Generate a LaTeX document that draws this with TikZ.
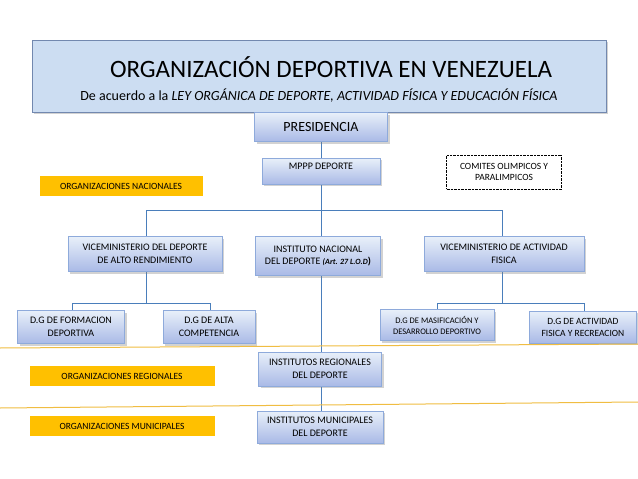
\documentclass[tikz,border=0pt]{standalone}
\usepackage{fontspec}
\setmainfont{Carlito}
\usetikzlibrary{shadows}
\definecolor{bfill}{HTML}{C6D9F1}
\definecolor{bdraw}{HTML}{8EAADB}
\definecolor{gold}{HTML}{FFC000}
\definecolor{lineblue}{HTML}{4A7EBB}
\begin{document}
\begin{tikzpicture}[x=1pt,y=-1pt,
 bx/.style={draw=bdraw,top color=white!60!bfill,bottom color=bfill!90!blue!95!black,drop shadow={shadow xshift=2pt,shadow yshift=-2pt,opacity=0.35},align=center,font=\fontsize{10}{12.5}\selectfont,inner sep=1pt},
 org/.style={fill=gold,align=center,font=\fontsize{9.5}{11}\selectfont,inner sep=0pt},
 ln/.style={draw=lineblue,line width=0.7pt}]
\useasboundingbox (0,0) rectangle (638,479);
\fill[white] (0,0) rectangle (638,479);
\draw[ln] (321,142) -- (321,158);
\draw[ln] (321,184) -- (321,210);
\draw[ln] (146,237) -- (146,210) -- (502,210) -- (502,237);
\draw[ln] (321,210) -- (321,237);
\draw[ln] (321,276) -- (321,352);
\draw[ln] (321,386) -- (321,411);
\draw[ln] (146,272) -- (146,303);
\draw[ln] (72,311) -- (72,303) -- (210,303) -- (210,311);
\draw[ln] (502,272) -- (502,303);
\draw[ln] (437,310) -- (437,303) -- (584,303) -- (584,311);
\node[draw=bdraw!80!black,fill=bfill!90!white,drop shadow={shadow xshift=2pt,shadow yshift=-2pt,opacity=0.35},minimum width=574pt,minimum height=72pt,inner sep=0pt] (title) at (319,76) {};
\node (t1) at (331,67) {\fontsize{25}{28}\selectfont ORGANIZACIÓN DEPORTIVA EN VENEZUELA};
\node (t2) at (319,96) {\fontsize{14}{16}\selectfont De acuerdo a la \textit{LEY ORGÁNICA DE DEPORTE, ACTIVIDAD FÍSICA Y EDUCACIÓN FÍSICA}};
\node[bx,minimum width=133pt,minimum height=29pt,font=\fontsize{14}{16}\selectfont] (pres) at (321,127) {PRESIDENCIA};
\node[bx,minimum width=118pt,minimum height=26pt,anchor=north,text depth=9pt] (mppp) at (321,158) {MPPP DEPORTE};
\node[draw,densely dotted,minimum width=115pt,minimum height=34pt,align=center,font=\fontsize{9.5}{11.5}\selectfont] (com) at (504,172) {COMITES OLIMPICOS Y\\PARALIMPICOS};
\node[org,minimum width=163pt,minimum height=20pt] (on) at (121,186) {ORGANIZACIONES  NACIONALES};
\node[bx,minimum width=154pt,minimum height=35pt] (v1) at (145,254) {VICEMINISTERIO DEL  DEPORTE\\DE ALTO RENDIMIENTO};
\node[bx,minimum width=125pt,minimum height=39pt] (ind) at (318,256) {INSTITUTO NACIONAL\\DEL DEPORTE \textbf{\textit{\fontsize{8}{10}\selectfont(Art. 27 L.O.D})}};
\node[bx,minimum width=160pt,minimum height=35pt] (v2) at (504,254) {VICEMINISTERIO DE  ACTIVIDAD\\FISICA};
\node[bx,minimum width=107pt,minimum height=33pt] (d1) at (71,327) {D.G DE FORMACION\\DEPORTIVA};
\node[bx,minimum width=92pt,minimum height=33pt] (d2) at (209,327) {D.G DE ALTA\\COMPETENCIA};
\node[bx,minimum width=114pt,minimum height=31pt,font=\fontsize{8.5}{11}\selectfont] (d3) at (437,325) {D.G DE MASIFICACIÓN Y\\DESARROLLO DEPORTIVO};
\node[bx,minimum width=107pt,minimum height=32pt,font=\fontsize{9.5}{12}\selectfont] (d4) at (583,327) {D.G DE ACTIVIDAD\\FISICA Y RECREACION};
\draw[gold!70!brown!80!white,line width=1pt] (0,348) -- (638,344);
\draw[gold!70!brown!80!white,line width=1pt] (0,408) -- (638,402);
\node[bx,minimum width=123pt,minimum height=34pt] (ir) at (320,369) {INSTITUTOS REGIONALES\\DEL DEPORTE};
\node[org,minimum width=185pt,minimum height=20pt] (or) at (122,376) {ORGANIZACIONES REGIONALES};
\node[bx,minimum width=126pt,minimum height=32pt] (im) at (320,427) {INSTITUTOS MUNICIPALES\\DEL DEPORTE};
\node[org,minimum width=185pt,minimum height=20pt] (om) at (122,426) {ORGANIZACIONES  MUNICIPALES};
\end{tikzpicture}
\end{document}
